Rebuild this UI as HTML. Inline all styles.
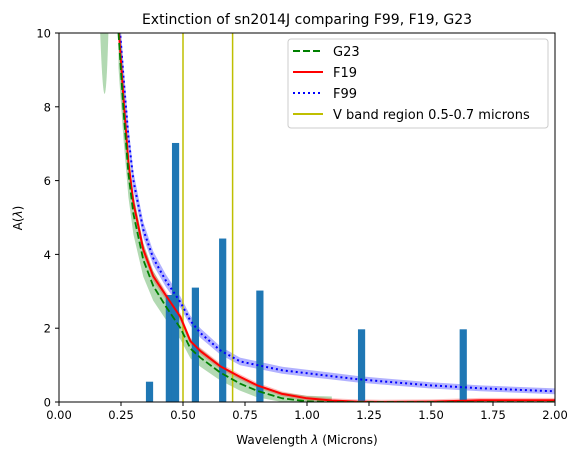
<!DOCTYPE html>
<html><head><meta charset="utf-8"><style>
body{margin:0;background:#fff;}
svg{display:block;font-family:"DejaVu Sans","Liberation Sans",sans-serif;}
</style></head><body>
<svg id="chart" width="580" height="459" viewBox="0 0 580 459">
<rect width="580" height="459" fill="#fff"/>
<text x="307" y="24" font-size="14" text-anchor="middle">Extinction of sn2014J comparing F99, F19, G23</text>
<defs><clipPath id="clip"><rect x="59" y="33" width="496" height="369"/></clipPath></defs>
<g id="plot" clip-path="url(#clip)"></g>
<g id="axes"></g>
<rect x="59" y="33" width="496" height="369" fill="none" stroke="#000" stroke-width="1"/>
<text x="307" y="444" font-size="12" text-anchor="middle">Wavelength <tspan font-style="italic">λ</tspan> (Microns)</text>
<text x="22" y="218" font-size="12" text-anchor="middle" transform="rotate(-90 22 218)">A(<tspan font-style="italic">λ</tspan>)</text>
<g>
<rect x="288" y="39" width="260" height="89" rx="3" fill="#fff" fill-opacity="0.8" stroke="#ccc"/>
<line x1="293" y1="51" x2="323" y2="51" stroke="green" stroke-width="2" stroke-dasharray="7,3"/>
<text x="333" y="56" font-size="13">G23</text>
<line x1="293" y1="72" x2="323" y2="72" stroke="red" stroke-width="2"/>
<text x="333" y="77" font-size="13">F19</text>
<line x1="293" y1="93" x2="323" y2="93" stroke="blue" stroke-width="2" stroke-dasharray="2,3"/>
<text x="333" y="98" font-size="13">F99</text>
<line x1="293" y1="114" x2="323" y2="114" stroke="#bfbf00" stroke-width="2"/>
<text x="333" y="119" font-size="13">V band region 0.5-0.7 microns</text>
</g>
</svg>
<script>
const xTicks=[0,0.25,0.5,0.75,1.0,1.25,1.5,1.75,2.0];
const xTickLabels=["0.00","0.25","0.50","0.75","1.00","1.25","1.50","1.75","2.00"];
const yTicks=[0,2,4,6,8,10];
const barX=[0.365,0.445,0.47,0.55,0.66,0.81,1.22,1.63];
const barH=[0.55,2.9,7.02,3.1,4.43,3.02,1.97,1.97];
const curveX=[0.24,0.26,0.28,0.30,0.34,0.38,0.43,0.49,0.53,0.57,0.65,0.73,0.8,0.9,1.0,1.1,1.2,1.3,1.5,1.7,2.0];
const f19=[10.2,8.2,6.5,5.4,4.13,3.41,2.9,2.3,1.65,1.38,0.97,0.68,0.45,0.22,0.1,0.04,0.01,0.0,0.01,0.05,0.05];
const f99=[10.6,8.8,7.2,6.0,4.67,3.9,3.3,2.7,2.2,1.87,1.4,1.1,1.0,0.86,0.78,0.7,0.62,0.56,0.45,0.37,0.29];
const g23=[10.0,7.9,6.2,5.1,3.85,3.15,2.6,2.0,1.45,1.2,0.8,0.5,0.3,0.1,0.02,0.0,0.0,0.0,0.0,0.0,0.0];
const vBand=[0.5,0.7];
const X=v=>59+v*248, Y=v=>402-v*36.9;
const NS="http://www.w3.org/2000/svg";
const plot=document.getElementById('plot'), axes=document.getElementById('axes');
function mk(tag,attrs,parent){const e=document.createElementNS(NS,tag);for(const k in attrs)e.setAttribute(k,attrs[k]);parent.appendChild(e);return e;}
function path(ys){return curveX.map((x,i)=>(i?'L':'M')+X(x).toFixed(1)+','+Y(ys[i]).toFixed(1)).join(' ');}
function band(ys,a,k,maxX){const idx=curveX.map((x,i)=>i).filter(i=>curveX[i]<=maxX);
let d=idx.map((i,j)=>(j?'L':'M')+X(curveX[i]).toFixed(1)+','+Y(ys[i]+a+k*ys[i]).toFixed(1)).join(' ');
for(let j=idx.length-1;j>=0;j--){const i=idx[j];d+='L'+X(curveX[i]).toFixed(1)+','+Y(Math.max(0,ys[i]-a-k*ys[i])).toFixed(1);}return d+'Z';}
let b=mk('path',{d:band(g23,0.15,0.08,1.1),fill:'green','fill-opacity':0.3},plot);


b=mk('path',{d:band(f99,0.07,0.03,2.0),fill:'blue','fill-opacity':0.3},plot);


b=mk('path',{d:band(f19,0.06,0.02,2.0),fill:'red','fill-opacity':0.25},plot);


b=mk('path',{d:`M${X(0.165)},${Y(10.2)} Q${X(0.185)},${Y(6.5)} ${X(0.2)},${Y(10.2)} Z`,fill:'green','fill-opacity':0.3},plot);


barX.forEach((x,i)=>{const r=mk('rect',{x:X(x)-3.6,y:Y(barH[i]),width:7.2,height:Y(0)-Y(barH[i]),fill:'#1f77b4'},plot);

});
vBand.forEach((v,i)=>{const l=mk('line',{x1:X(v),x2:X(v),y1:33,y2:402,stroke:'#bfbf00','stroke-width':1.5},plot);

});
let c=mk('path',{d:path(f99),fill:'none',stroke:'blue','stroke-width':2,'stroke-dasharray':'2,3','stroke-linejoin':'round'},plot);


c=mk('path',{d:path(f19),fill:'none',stroke:'red','stroke-width':2,'stroke-linejoin':'round'},plot);


c=mk('path',{d:path(g23),fill:'none',stroke:'green','stroke-width':1.8,'stroke-dasharray':'7,3','stroke-linejoin':'round'},plot);


xTicks.forEach((t,i)=>{mk('line',{x1:X(t),x2:X(t),y1:402,y2:406,stroke:'#000'},axes);
const tx=mk('text',{x:X(t),y:419,'font-size':11.5,'text-anchor':'middle'},axes);tx.textContent=xTickLabels[i];

});
yTicks.forEach(t=>{mk('line',{x1:55,x2:59,y1:Y(t),y2:Y(t),stroke:'#000'},axes);
const tx=mk('text',{x:51,y:Y(t)+4.5,'font-size':11.5,'text-anchor':'end'},axes);tx.textContent=t;

});
</script>
</body></html>
